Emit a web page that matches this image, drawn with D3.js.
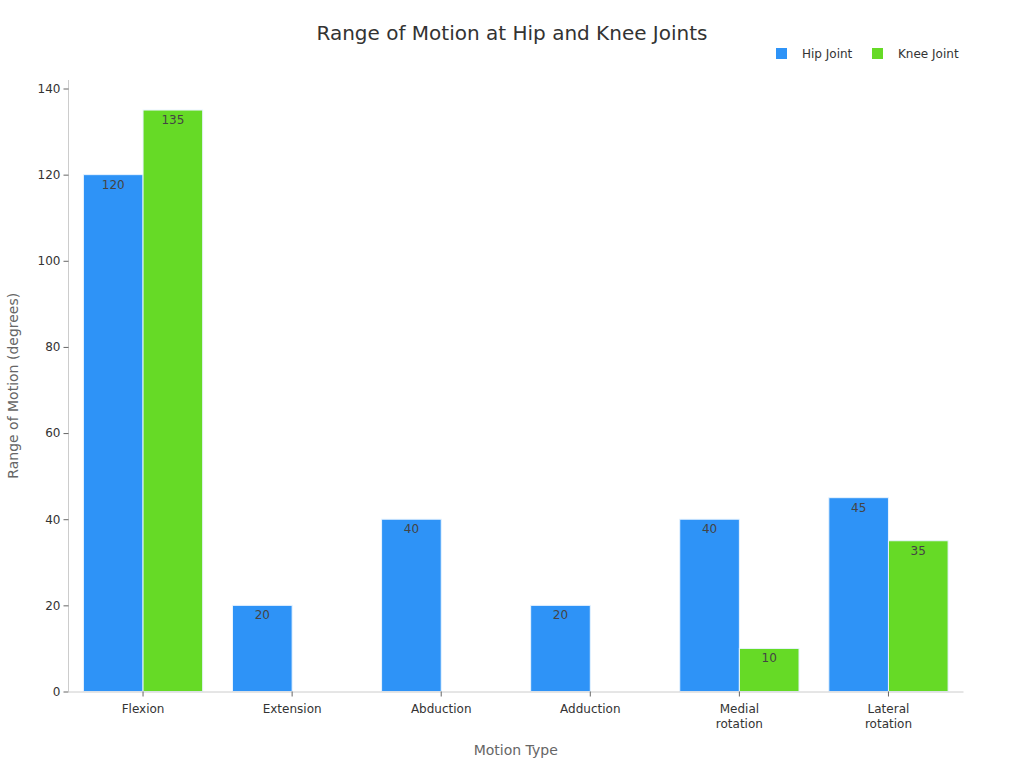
<!DOCTYPE html>
<html>
<head>
<meta charset="utf-8">
<script src="https://cdn.jsdelivr.net/npm/d3@7"></script>
<style>
  body { margin: 0; background: #fff; font-family: "DejaVu Sans", sans-serif; }
</style>
</head>
<body>
<svg id="chart"></svg>
<script>
const categories = ["Flexion", "Extension", "Abduction", "Adduction", "Medial rotation", "Lateral rotation"];
const seriesNames = ["Hip Joint", "Knee Joint"];
const hipValues = [120, 20, 40, 20, 40, 45];
const kneeValues = [135, 0, 0, 0, 10, 35];
const yTicks = [0, 20, 40, 60, 80, 100, 120, 140];
const colors = ["#2e93f7", "#66da26"];

const width = 1024, height = 768;
const margin = { top: 80, right: 61, bottom: 76.5, left: 68.5 };

const svg = d3.select("#chart").attr("width", width).attr("height", height);

const x = d3.scaleBand()
    .domain(categories)
    .range([margin.left, width - margin.right])
    .paddingInner(0.2)
    .paddingOuter(0.1);

const xSub = d3.scaleBand()
    .domain(seriesNames)
    .range([0, x.bandwidth()]);

const y = d3.scaleLinear()
    .domain([0, 140])
    .range([height - margin.bottom, 88.5]);

// title
svg.append("text")
    .attr("x", 512).attr("y", 40)
    .attr("text-anchor", "middle")
    .attr("font-size", 20)
    .attr("fill", "#333")
    .text("Range of Motion at Hip and Knee Joints");

// legend
const legend = svg.append("g");
const legendX = [776, 872];
seriesNames.forEach((name, i) => {
    legend.append("rect")
        .attr("x", legendX[i]).attr("y", 48)
        .attr("width", 11).attr("height", 11)
        .attr("fill", colors[i]);
    legend.append("text")
        .attr("x", legendX[i] + 26).attr("y", 58)
        .attr("font-size", 12)
        .attr("fill", "#333")
        .text(name);
});

// bars
const rows = categories.map((c, i) => ({ cat: c, values: [hipValues[i], kneeValues[i]] }));

const groups = svg.append("g")
    .selectAll("g")
    .data(rows)
    .join("g")
    .attr("transform", d => `translate(${x(d.cat)},0)`);

groups.selectAll("rect")
    .data(d => d.values.map((v, i) => ({ name: seriesNames[i], value: v, i })))
    .join("rect")
    .filter(d => d.value > 0)
    .attr("x", d => xSub(d.name))
    .attr("y", d => y(d.value))
    .attr("width", xSub.bandwidth())
    .attr("height", d => y(0) - y(d.value))
    .attr("fill", d => colors[d.i])
    .attr("stroke", "#e8f4ff")
    .attr("stroke-width", 1);

groups.selectAll("text")
    .data(d => d.values.map((v, i) => ({ name: seriesNames[i], value: v, i })).filter(d => d.value > 0))
    .join("text")
    .attr("x", d => xSub(d.name) + xSub.bandwidth() / 2)
    .attr("y", d => y(d.value) + 14)
    .attr("text-anchor", "middle")
    .attr("font-size", 12)
    .attr("fill", "#444")
    .text(d => d.value);

// y axis
const yAxis = svg.append("g")
    .attr("transform", `translate(${margin.left},0)`)
    .call(d3.axisLeft(y).tickValues(yTicks).tickSize(5).tickPadding(3));
yAxis.select(".domain").attr("stroke", "#ccc");
yAxis.selectAll(".tick line").attr("stroke", "#666");
yAxis.selectAll(".tick text").attr("font-size", 12).attr("fill", "#333").attr("font-family", "DejaVu Sans");
yAxis.select(".domain").attr("d", `M0,${y(0)}V80`);

// x axis
const xAxis = svg.append("g")
    .attr("transform", `translate(0,${y(0)})`)
    .call(d3.axisBottom(x).tickSize(5).tickSizeOuter(0).tickPadding(8));
xAxis.select(".domain").attr("stroke", "#ccc");
xAxis.selectAll(".tick line").attr("stroke", "#666");
xAxis.selectAll(".tick text")
    .attr("font-size", 12).attr("fill", "#333").attr("font-family", "DejaVu Sans")
    .each(function (d) {
        const t = d3.select(this);
        const words = d.split(" ");
        if (words.length > 1) {
            t.text(null);
            words.forEach((w, i) => {
                t.append("tspan").attr("x", 0).attr("dy", i === 0 ? "0.71em" : "1.25em").text(w);
            });
        }
    });

// axis titles
svg.append("text")
    .attr("x", (margin.left + width - margin.right) / 2)
    .attr("y", 755)
    .attr("text-anchor", "middle")
    .attr("font-size", 14)
    .attr("fill", "#666")
    .text("Motion Type");

svg.append("text")
    .attr("transform", `translate(18,${(y(0) + 88) / 2 - 4}) rotate(-90)`)
    .attr("text-anchor", "middle")
    .attr("font-size", 14)
    .attr("fill", "#666")
    .text("Range of Motion (degrees)");
</script>
</body>
</html>
